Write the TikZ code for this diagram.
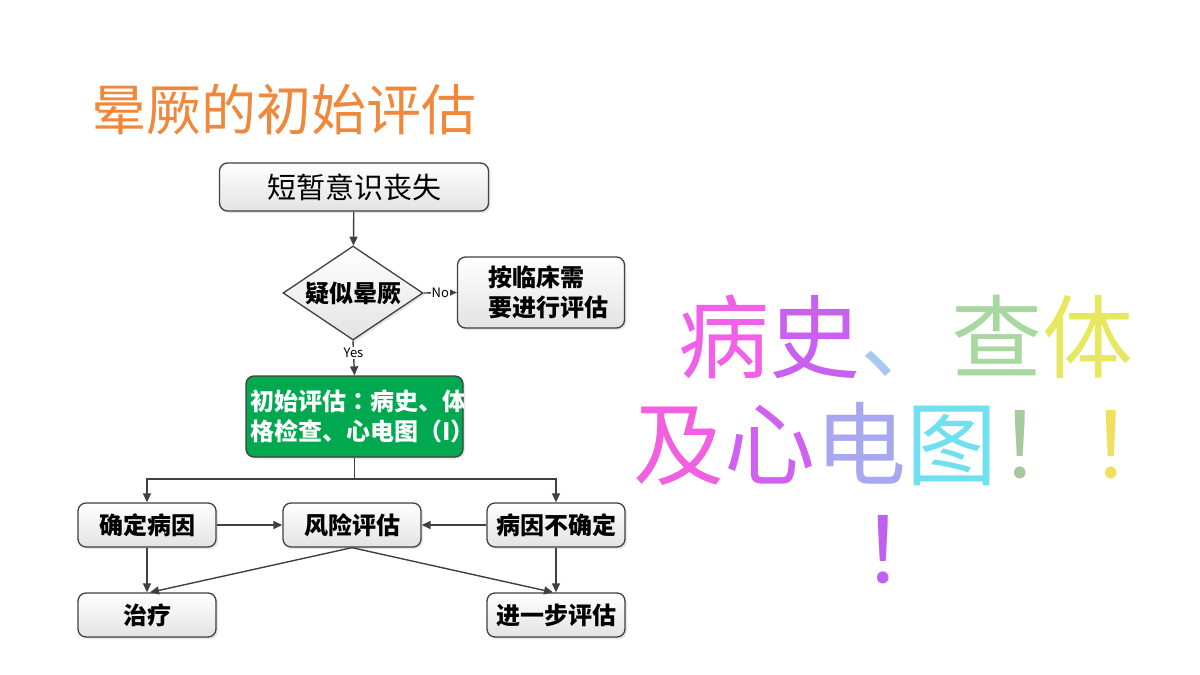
\documentclass[tikz,border=0pt]{standalone}
\usepackage{fontspec}
\setmainfont{Noto Sans CJK SC}
\newfontfamily\cjktc{Noto Sans CJK TC}
\usepackage{tikz}
\usetikzlibrary{shapes.geometric,arrows.meta,shadows}
\definecolor{arrowgray}{HTML}{404040}
\definecolor{titleorange}{HTML}{F0883C}
\definecolor{initgreen}{HTML}{00A84F}
\tikzset{
	flowbox/.style={draw=arrowgray,line width=1.3pt,rounded corners=8pt,
		top color=white,bottom color=gray!22,inner sep=0pt,
		drop shadow={opacity=0.2,shadow xshift=2pt,shadow yshift=-2pt},
		minimum width=138pt,minimum height=44pt,font=\fontsize{24}{30}\selectfont\bfseries},
	flowarrow/.style={draw=arrowgray,line width=1.4pt,-{Triangle[length=9pt,width=8pt]}},
	yesno/.style={fill=white,inner sep=1pt,font=\fontsize{13}{13}\selectfont}
}

\begin{document}
\begin{tikzpicture}[x=1pt,y=-1pt]
\useasboundingbox (0,0) rectangle (1200,675);
\node[text=titleorange,font=\fontsize{55}{55}\selectfont] (title) at (284,110) {晕厥的初始评估};
%% flow chart
\node[flowbox,minimum width=269pt,minimum height=48pt,font=\fontsize{29}{30}\selectfont] (loss) at (354,187) {短暂意识丧失};
\node[flowbox,diamond,aspect=1.46,minimum width=140pt,minimum height=94pt,rounded corners=0pt] (suspect) at (353,293) {疑似晕厥};
\node[flowbox,minimum width=167pt,minimum height=71pt,align=left,text width=106pt] (other) at (541,292.5) {按临床需\\要进行评估};
\node[flowbox,fill=initgreen,top color=initgreen,bottom color=initgreen,minimum width=217pt,minimum height=81pt] (init) at (354.5,416.5) {};
\begin{scope}
	\clip (init.south west) rectangle (init.north east);
	\node[anchor=west,align=left,text=white,inner sep=0pt,font=\fontsize{24}{30}\selectfont\bfseries] (inittext) at ([xshift=5pt]init.west) {初始评估{\cjktc ：}病史、体\\格检查、心电图（I）};
\end{scope}
\node[flowbox] (known) at (147,525) {确定病因};
\node[flowbox] (risk) at (352,525) {风险评估};
\node[flowbox] (unknown) at (556,525) {病因不确定};
\node[flowbox] (treat) at (147,615) {治疗};
\node[flowbox] (further) at (556,615) {进一步评估};
\coordinate (split) at (354.5,479);
%% connectors
\draw[flowarrow] (loss) -- (suspect);
\draw[flowarrow] (suspect.east) -- node[yesno] (nolabel) {No} (other.west);
\draw[flowarrow] (suspect.south) -- node[yesno,pos=0.35] (yeslabel) {Yes} (init.north);
\draw[draw=arrowgray,line width=1.4pt] (init.south) -- (split);
\draw[flowarrow] (split) -| (known.north);
\draw[flowarrow] (split) -| (unknown.north);
\draw[flowarrow] (known) -- (risk);
\draw[flowarrow] (unknown) -- (risk);
\draw[flowarrow] (known) -- (treat);
\draw[flowarrow] (unknown) -- (further);
\draw[flowarrow] (risk.south) -- ([xshift=3pt]treat.north);
\draw[flowarrow] (risk.south) -- ([xshift=-3pt]further.north);
%% the big coloured words
\node[anchor=base,inner sep=0pt,font=\fontsize{91}{91}\selectfont] (line1) at (906,371)
	{\textcolor[HTML]{F060E8}{病}\textcolor[HTML]{C860F0}{史}\textcolor[HTML]{A8C8F0}{、}\textcolor[HTML]{A8D8A0}{查}\textcolor[HTML]{E8E860}{体}};
\node[anchor=base,inner sep=0pt,font=\fontsize{91}{91}\selectfont] (line2) at (906,478)
	{\textcolor[HTML]{F060E0}{及}\textcolor[HTML]{D060F0}{心}\textcolor[HTML]{A8A8F0}{电}\textcolor[HTML]{70E0F0}{图}\textcolor[HTML]{A8C8A0}{！}\textcolor[HTML]{F0E060}{！}};
\node[anchor=base,inner sep=0pt,font=\fontsize{91}{91}\selectfont] (line3) at (906,583)
	{\textcolor[HTML]{C060F0}{！}};
\end{tikzpicture}
\end{document}
